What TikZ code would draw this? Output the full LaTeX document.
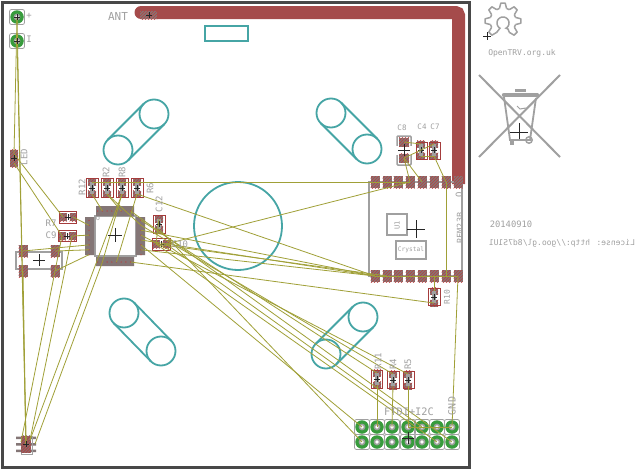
\documentclass[tikz,border=0pt]{standalone}
\usepackage{fontspec}
\setmainfont{DejaVu Sans Mono}
\usetikzlibrary{patterns,calc}
\definecolor{board}{RGB}{72,72,72}
\definecolor{trace}{RGB}{165,75,75}
\definecolor{teal1}{RGB}{70,165,165}
\definecolor{air}{RGB}{160,160,55}
\definecolor{silk}{RGB}{160,160,160}
\definecolor{padg}{RGB}{132,118,118}
\definecolor{hatch}{RGB}{190,60,60}
\definecolor{redbox}{RGB}{165,60,60}
\definecolor{ring}{RGB}{55,155,60}
\tikzset{
 pad/.style={rectangle,inner sep=0pt,minimum width=#1,preaction={fill=padg},pattern=north east lines,pattern color=hatch},
 pad/.default=9pt,
 airw/.style={draw=air,line width=0.8pt},
 mech/.style={draw=teal1,line width=1.8pt},
 silkl/.style={draw=silk,line width=1.5pt},
 rbox/.style={draw=redbox,line width=1pt},
 lbl/.style={text=silk,font=\fontsize{9}{9}\selectfont,inner sep=0pt},
 xmark/.style={draw=black!85,line width=0.7pt},
}
\newcommand\xm[3]{\draw[xmark] (#1-#3,#2) -- (#1+#3,#2) (#1,#2-#3) -- (#1,#2+#3);}
\newcommand\vpart[4]{%
 \node[pad=8pt,minimum height=7pt] (#1a) at (#2,#3-#4) {};
 \node[pad=8pt,minimum height=7pt] (#1b) at (#2,#3+#4) {};
 \draw[fill=silk,draw=none] (#2-2,#3-#4) rectangle (#2+2,#3+#4);
 \xm{#2}{#3}{3}
}
\newcommand\hpart[4]{%
 \node[pad=7pt,minimum height=8pt] (#1a) at (#2-#4,#3) {};
 \node[pad=7pt,minimum height=8pt] (#1b) at (#2+#4,#3) {};
 \xm{#2}{#3}{3}
}
\newcommand\pill[6]{%
 \draw[mech] (#1,#2) circle (14.5pt) (#3,#4) circle (14.5pt);
 \draw[mech] (#1+#5,#2+#6) -- (#3+#5,#4+#6) (#1-#5,#2-#6) -- (#3-#5,#4-#6);
}
\newcommand\thole[3]{%
 \draw[silk,line width=0.8pt,rounded corners=2pt] (#2-7.5,#3-7.5) rectangle (#2+7.5,#3+7.5);
 \node[circle,fill=ring,inner sep=0pt,minimum size=13.5pt] (#1) at (#2,#3) {};
 \fill[silk] (#2,#3) circle (3.4pt);
 \fill[white] (#2,#3) circle (1.8pt);
}
\begin{document}
\begin{tikzpicture}[x=1pt,y=-1pt]
\useasboundingbox (0,0) rectangle (635,471);
\fill[white] (0,0) rectangle (635,471);
\draw[board,line width=3pt] (2.5,2.5) rectangle (469,467);
\fill[trace] (141,12.5) circle (6.5pt);
\draw[trace,line width=13pt,rounded corners=3pt] (141,12.5) -- (458.5,12.5) -- (458.5,184);
\draw[mech] (205,26) rectangle (248,41);
\pill{154}{114}{118}{150}{10.25}{10.25}
\pill{331}{113}{367}{149}{10.25}{-10.25}
\pill{124}{313}{161}{351}{10.25}{-10.25}
\pill{363}{317}{326}{354}{10.25}{10.25}
\draw[mech] (238,226) circle (44pt);
\draw[silkl] (369,182) rectangle (462,276);
\draw[silkl] (387,214) rectangle (407,235);
\draw[silkl] (396,241) rectangle (426,259);
\foreach \i/\x in {1/375,2/387,3/398,4/410,5/422,6/434,7/446,8/458}{
 \node[pad=9pt,minimum height=12pt] (t\i) at (\x,182) {};
 \node[pad=9pt,minimum height=12pt] (b\i) at (\x,276) {};
}
\draw[silk,line width=1.5pt,rounded corners=1pt] (397,136) rectangle (411,165);
\fill[white] (396,146) rectangle (412,155);
\node[pad=10pt,minimum height=9pt] (c8a) at (404,142) {};
\node[pad=10pt,minimum height=9pt] (c8b) at (404,158) {};
\vpart{c4}{421}{150}{6}
\vpart{c7}{434}{150}{6}
\draw[rbox] (416,142) rectangle (427,159) (429,142) rectangle (440,159);
\vpart{r10}{434}{297}{6}
\draw[rbox] (428,288) rectangle (440,305);
\vpart{r11}{377}{379}{6}
\vpart{r4}{393}{380}{6}
\vpart{r5}{408}{380}{6}
\draw[rbox] (371,370) rectangle (382,388) (387,371) rectangle (399,388) (403,371) rectangle (414,388);
\vpart{r12}{92}{188}{6}
\vpart{r2}{107}{188}{6}
\vpart{r8}{122}{188}{6}
\vpart{r6}{137}{188}{6}
\draw[rbox] (86,178) rectangle (98,197) (101,178) rectangle (113,197) (116,178) rectangle (128,197) (131,178) rectangle (143,197);
\vpart{c12}{159}{224}{5}
\draw[rbox] (153,215) rectangle (165,233);
\hpart{c10}{161}{244}{5}
\draw[rbox] (152,238) rectangle (170,250);
\hpart{r7}{68}{217}{5}
\hpart{c9}{67}{236}{5}
\draw[rbox] (59,211) rectangle (76,223) (58,230) rectangle (76,241);
\draw[silkl] (16,252) rectangle (62,269);
\node[pad=9pt,minimum height=12pt] (xa) at (23,251) {};
\node[pad=9pt,minimum height=12pt] (xb) at (23,271) {};
\node[pad=9pt,minimum height=12pt] (xc) at (55,251) {};
\node[pad=9pt,minimum height=12pt] (xd) at (55,271) {};
\draw[silkl] (95,216) rectangle (136,256);
\fill[padg] (96,206) rectangle (134,216) (96,257) rectangle (134,266) (85,217) rectangle (94,255) (136,217) rectangle (145,255);
\foreach \i in {1,...,8}{
 \coordinate (ml\i) at (89,{215.5+\i*4.9});
 \coordinate (mr\i) at (141,{215.5+\i*4.9});
 \coordinate (mt\i) at ({93+\i*4.7},211);
 \coordinate (mb\i) at ({93+\i*4.7},262);
 \fill[hatch] (ml\i) circle (0.7pt) (mr\i) circle (0.7pt) (mt\i) circle (0.7pt) (mb\i) circle (0.7pt);
}
\node[pad=8pt,minimum height=9pt] (leda) at (14,154) {};
\node[pad=8pt,minimum height=8pt] (ledb) at (14,163) {};
\fill[padg] (16,436.5) rectangle (36,439) (16,443) rectangle (36,445.5) (16,449.5) rectangle (36,452);
\draw[silk,line width=0.8pt] (21,436) rectangle (32,454);
\node[rectangle,inner sep=0pt,minimum width=10pt,minimum height=17pt,preaction={fill=trace},pattern=north east lines,pattern color=padg] (chip) at (26,444) {};
\coordinate (chl) at (21,442);
\coordinate (chr) at (35,444);
\coordinate (chq) at (30,440);
\foreach \i/\x in {1/362,2/377,3/392,4/408,5/422,6/437,7/452}{
 \thole{ha\i}{\x}{427}
 \thole{hb\i}{\x}{442}
}
\thole{tpa}{17}{17}
\thole{tpb}{17}{41}
\node[pad=17pt,minimum height=8pt] (ant) at (148.5,15) {};
\foreach \p/\q in {tpa/chip,tpb/chip,tpa/leda,leda/r7a,ledb/c9a,xb/chip,c9a/chl,c9b/chq,mb2/chr,%
 r8b/chq,r7b/ml2,c9b/ml4,xc/ml7,xd/ml8,xa/ml6,%
 r12a/t1,r6b/b1,c10b/t4,r12b/mt2,r2b/mt6,r8b/mb2,r6b/mb5,r2b/mr2,%
 mr3/b1,mr5/b1,mr7/b1,c10a/b2,mb8/r10b,%
 c12b/hb1,mr1/r11a,mr2/r4a,mr4/r5a,c10b/ha5,c10a/hb6,mr6/ha1,mt8/hb7,c12a/c10a,%
 r11b/ha2,r4b/ha3,r5b/ha4,ha4/ha7,t1/t4,t5/c8b,%
 c8a/c4a,c8b/c7a,c7b/t7,t7/b7,b1/b8,b6/r10a,b8/ha7,c4b/c7b,t4/c8b}{\draw[airw] (\p.center) -- (\q.center);}
\xm{115}{235}{7}\xm{39}{260}{6}\xm{416}{229}{9}\xm{404}{150}{6}\xm{519}{132}{9}\xm{487}{36}{4}\xm{408}{438}{6}
\xm{26}{444}{3}\xm{149}{15}{3}\xm{17}{17}{3}\xm{17}{41}{3}\xm{14}{158}{3}
\node[lbl,font=\fontsize{11}{11}\selectfont] (lant) at (118,16) {ANT};
\node[lbl] (lp) at (29,16) {+};
\node[lbl] (lm) at (29,39) {I};
\node[lbl,rotate=90] (lled) at (24,157) {LED};
\node[lbl,rotate=90] (l12) at (82,187) {R12};
\node[lbl,rotate=90] (l2) at (106,172) {R2};
\node[lbl,rotate=90] (l8) at (122,172) {R8};
\node[lbl,rotate=90] (l6) at (150,188) {R6};
\node[lbl,rotate=90] (l1c) at (159,204) {C12};
\node[lbl] (l10) at (180,244) {C10};
\node[lbl] (l7) at (51,223) {R7};
\node[lbl] (lc9) at (51,235) {C9};
\node[lbl,font=\fontsize{7.5}{8}\selectfont] (lc8) at (402,128) {C8};
\node[lbl,font=\fontsize{7.5}{8}\selectfont] (lc4) at (422,127) {C4};
\node[lbl,font=\fontsize{7.5}{8}\selectfont] (lc7) at (435,127) {C7};
\node[lbl,rotate=90,font=\fontsize{8}{8}\selectfont] (lr10) at (447,297) {R10};
\node[lbl,rotate=90] (lr11) at (378,361) {R11};
\node[lbl,rotate=90] (lr4) at (393,364) {R4};
\node[lbl,rotate=90] (lr5) at (408,364) {R5};
\node[lbl,font=\fontsize{10.3}{11}\selectfont] (lftdi) at (409,412) {FTDI+I2C};
\node[lbl,rotate=90,font=\fontsize{10}{10}\selectfont] (lgnd) at (452,406) {GND};
\node[lbl,rotate=90,font=\fontsize{8.5}{9}\selectfont] (lrfm) at (460,228) {RFM23B};
\node[lbl,rotate=90,font=\fontsize{9}{9}\selectfont] (lq) at (459,195) {O};
\node[lbl,rotate=90,font=\fontsize{7}{7}\selectfont] (lu) at (397,225) {U1};
\node[lbl,font=\fontsize{6.2}{7}\selectfont] (lcr) at (411,250) {Crystal};
\node[lbl,font=\fontsize{7}{7}\selectfont] (lo) at (98,219) {o};
\node[lbl,font=\fontsize{8}{8}\selectfont] (lot) at (522,53) {OpenTRV.org.uk};
\node[lbl,font=\fontsize{8.8}{9}\selectfont] (ldate) at (511,224) {20140910};
\node[lbl,font=\fontsize{8}{8}\selectfont,transform shape,xscale=-1] (llic) at (562,243) {License: http://goo.gl/8d7S1U1};
\coordinate (g) at (503,21);
\foreach \a in {270,315,0,45,225,180,135}{
 \draw[silkl,line join=round] ($(g)+({\a-16}:13)$) -- ($(g)+({\a-7}:18)$) -- ($(g)+({\a+7}:18)$) -- ($(g)+({\a+16}:13)$);
}
\foreach \a in {270,315,0,225,180,135}{
 \draw[silkl] ($(g)+({\a+16}:13)$) -- ($(g)+({\a+29}:13)$);
}
\draw[silkl] ($(g)+(61:13)$) -- (508,29) -- plot[domain=60:-240,samples=30] ({503+6*cos(\x)},{23+6*sin(\x)}) -- ($(g)+(119:13)$);
\draw[silk,line width=2pt] (479,75) -- (560,157) (560,75) -- (479,157);
\draw[silk,line width=4.5pt,line cap=round] (504,95) -- (537,95);
\draw[silk,line width=3.5pt] (515,90.5) -- (526,90.5);
\draw[silk,line width=1.8pt] (504,97) -- (510,140) -- (530,140) -- (536,98);
\draw[silk,line width=1.5pt] (529,140) circle (3.2pt);
\fill[silk] (510,141) rectangle (514,145);
\draw[silk,line width=1pt] (517,106) -- (520,109) -- (526,108);
\end{tikzpicture}
\end{document}
